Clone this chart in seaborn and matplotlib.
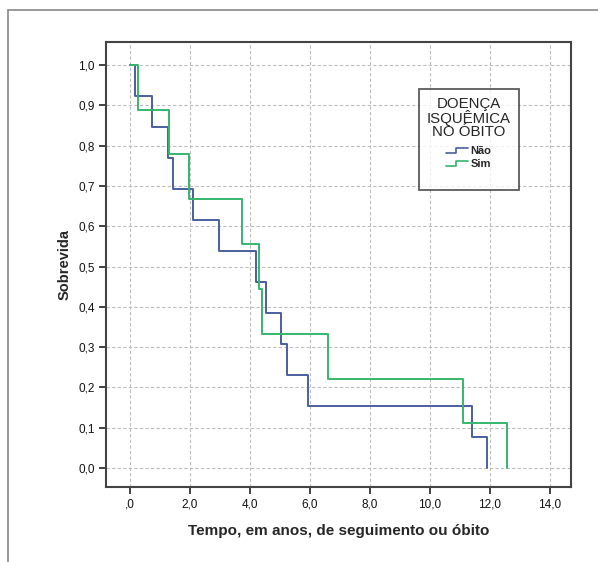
import numpy as np
import pandas as pd
import matplotlib
matplotlib.use('Agg')
import matplotlib.pyplot as plt
import seaborn as sns
from matplotlib.lines import Line2D
from matplotlib.legend_handler import HandlerBase

# curvas de sobrevida (Kaplan-Meier)
tempo_nao = [0, 0.15, 0.74, 1.28, 1.44, 2.11, 2.98, 4.2, 4.54, 5.03, 5.24, 5.93, 11.39, 11.91]
surv_nao = [1.0, 0.923, 0.846, 0.769, 0.692, 0.615, 0.538, 0.462, 0.385, 0.308, 0.231, 0.154, 0.077, 0.0]
tempo_sim = [0, 0.28, 1.3, 1.98, 3.74, 4.31, 4.41, 6.61, 11.1, 12.57]
surv_sim = [1.0, 0.889, 0.778, 0.667, 0.556, 0.444, 0.333, 0.222, 0.111, 0.0]

grupos = ['Não', 'Sim']
cores = {'Não': '#4b5f9e', 'Sim': '#35b56e'}
xticks = [0, 2, 4, 6, 8, 10, 12, 14]
xlabels = [',0', '2,0', '4,0', '6,0', '8,0', '10,0', '12,0', '14,0']
yticks = [0.0, 0.1, 0.2, 0.3, 0.4, 0.5, 0.6, 0.7, 0.8, 0.9, 1.0]
ylabels = ['0,0', '0,1', '0,2', '0,3', '0,4', '0,5', '0,6', '0,7', '0,8', '0,9', '1,0']

df = pd.concat([
    pd.DataFrame({'tempo': tempo_nao, 'sobrevida': surv_nao, 'grupo': 'Não'}),
    pd.DataFrame({'tempo': tempo_sim, 'sobrevida': surv_sim, 'grupo': 'Sim'}),
], ignore_index=True)

sns.set_style('white')
plt.rcParams['font.family'] = ['Liberation Sans', 'DejaVu Sans']

fig = plt.figure(figsize=(5.98, 5.62), dpi=100)
ax = fig.add_axes([106 / 598, 1 - 487 / 562, 465 / 598, 445 / 562])

sns.lineplot(data=df, x='tempo', y='sobrevida', hue='grupo', palette=cores,
             drawstyle='steps-post', estimator=None, sort=False,
             linewidth=1.4, legend=False, ax=ax, zorder=3)

ax.set_xlim(-0.8, 14.7)
ax.set_ylim(-0.047, 1.057)
ax.set_xticks(xticks)
ax.set_xticklabels(xlabels)
ax.set_yticks(yticks)
ax.set_yticklabels(ylabels)
ax.tick_params(axis='both', direction='out', length=5, width=1.3, color='#333333',
               labelsize=8.5, labelcolor='#111111', pad=3)
ax.tick_params(left=True, bottom=True)
ax.grid(True, color='#bdbdbd', linestyle=(0, (3, 2)), linewidth=0.8)
for s in ax.spines.values():
    s.set_color('#444444')
    s.set_linewidth(1.5)

ax.set_xlabel('Tempo, em anos, de seguimento ou óbito', fontsize=11, fontweight='bold', labelpad=10)
ax.set_ylabel('Sobrevida', fontsize=10.5, fontweight='bold', labelpad=5)


# simbolo em degrau na legenda
class StepHandler(HandlerBase):
    def create_artists(self, legend, orig_handle, xdescent, ydescent, width, height, fontsize, trans):
        x0 = -xdescent
        xs = [x0, x0 + width * 0.45, x0 + width * 0.45, x0 + width]
        ys = [height * 0.1, height * 0.1, height * 0.8, height * 0.8]
        ys = [y - ydescent for y in ys]
        ln = Line2D(xs, ys, color=orig_handle.get_color(), linewidth=1.2, transform=trans)
        return [ln]


# entrada vazia no fim para dar o espaco de baixo da caixa
handles = [Line2D([], [], color=cores[g]) for g in grupos] + [Line2D([], [], color='none')]
leg = ax.legend(handles, grupos + [' '], title='DOENÇA\nISQUÊMICA\nNO ÓBITO',
                handler_map={Line2D: StepHandler()},
                loc='upper left', bbox_to_anchor=((419 - 106) / 465, (487 - 89) / 445),
                frameon=True, fancybox=False, handlelength=2.0, handletextpad=0.2,
                labelspacing=0.3, borderpad=0.7, borderaxespad=0, prop={'size': 8, 'weight': 'bold'},
                title_fontsize=10.8)
leg.get_title().set_multialignment('center')
leg.get_title().set_linespacing(0.92)
leg.get_texts()[2].set_fontsize(5)
leg.get_frame().set_edgecolor('#333333')
leg.get_frame().set_linewidth(1.3)
leg._legend_box.align = 'center'
leg._legend_box.sep = 5

# moldura externa
fig.add_artist(Line2D([8 / 598, 8 / 598], [1 - 10 / 562, 0], color='#888888', linewidth=1.2,
                      transform=fig.transFigure))
fig.add_artist(Line2D([8 / 598, 1], [1 - 10 / 562, 1 - 10 / 562], color='#888888', linewidth=1.2,
                      transform=fig.transFigure))

fig.savefig('out.png', dpi=100)
